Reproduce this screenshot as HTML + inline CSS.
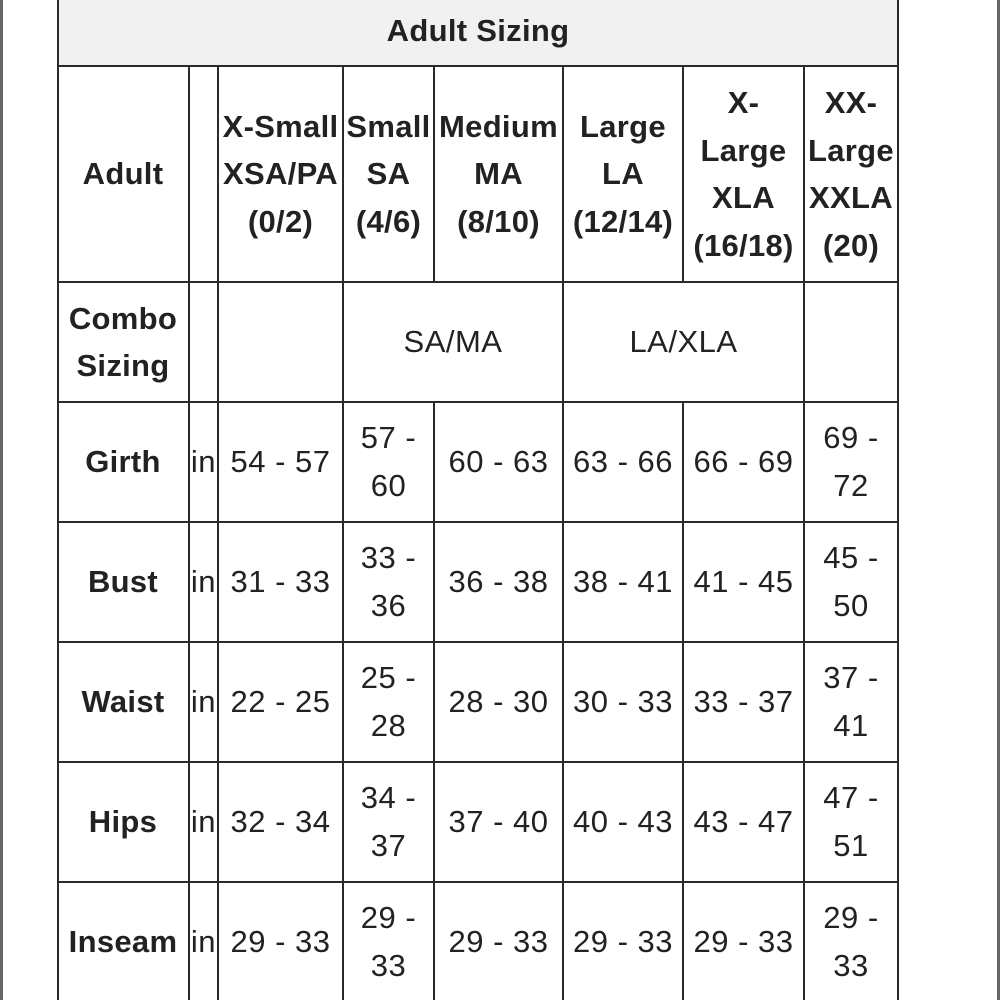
<!DOCTYPE html>
<html><head><meta charset="utf-8"><style>
html,body{margin:0;padding:0;background:#fff;}
#c{position:relative;width:1000px;height:1000px;overflow:hidden;font-family:"Liberation Sans",sans-serif;color:#222;}
.v{position:absolute;width:2px;background:#2a2a2a;}
.h{position:absolute;height:2px;background:#2a2a2a;}
.t{position:absolute;display:flex;align-items:center;justify-content:center;text-align:center;white-space:nowrap;font-size:31px;line-height:48px;letter-spacing:0.5px;}
.b{font-weight:bold;font-size:31px;line-height:47.5px;letter-spacing:0.3px;}
</style></head><body><div id="c">
<div style="position:absolute;left:0;top:0;width:3px;height:1000px;background:#666"></div>
<div style="position:absolute;left:997px;top:0;width:3px;height:1000px;background:#666"></div>
<div style="position:absolute;left:58px;top:0;width:841px;height:66px;background:#f1f1f1"></div>
<div class="v" style="left:57px;top:0;height:1000px"></div>
<div class="v" style="left:897px;top:0;height:1000px"></div>
<div class="h" style="left:57px;top:65px;width:842px"></div>
<div class="h" style="left:57px;top:281px;width:842px"></div>
<div class="h" style="left:57px;top:401px;width:842px"></div>
<div class="h" style="left:57px;top:521px;width:842px"></div>
<div class="h" style="left:57px;top:641px;width:842px"></div>
<div class="h" style="left:57px;top:761px;width:842px"></div>
<div class="h" style="left:57px;top:881px;width:842px"></div>
<div class="v" style="left:188px;top:66px;height:934px"></div>
<div class="v" style="left:217px;top:66px;height:934px"></div>
<div class="v" style="left:342px;top:66px;height:934px"></div>
<div class="v" style="left:433px;top:66px;height:216px"></div>
<div class="v" style="left:433px;top:402px;height:598px"></div>
<div class="v" style="left:562px;top:66px;height:934px"></div>
<div class="v" style="left:682px;top:66px;height:216px"></div>
<div class="v" style="left:682px;top:402px;height:598px"></div>
<div class="v" style="left:803px;top:66px;height:934px"></div>

<div class="t b" style="left:57px;top:0;width:842px;height:62px">Adult Sizing</div>

<div class="t b" style="left:57px;top:66px;width:132px;height:216px">Adult</div>
<div class="t b" style="left:218px;top:66px;width:125px;height:216px">X-Small<br>XSA/PA<br>(0/2)</div>
<div class="t b" style="left:343px;top:66px;width:91px;height:216px">Small<br>SA<br>(4/6)</div>
<div class="t b" style="left:434px;top:66px;width:129px;height:216px">Medium<br>MA<br>(8/10)</div>
<div class="t b" style="left:563px;top:66px;width:120px;height:216px">Large<br>LA<br>(12/14)</div>
<div class="t b" style="left:683px;top:66px;width:121px;height:216px">X-<br>Large<br>XLA<br>(16/18)</div>
<div class="t b" style="left:804px;top:66px;width:94px;height:216px">XX-<br>Large<br>XXLA<br>(20)</div>

<div class="t b" style="left:57px;top:282px;width:132px;height:120px">Combo<br>Sizing</div>
<div class="t" style="left:343px;top:282px;width:220px;height:120px">SA/MA</div>
<div class="t" style="left:563px;top:282px;width:241px;height:120px">LA/XLA</div>

<!-- rows -->
<div class="t b" style="left:57px;top:402px;width:132px;height:120px">Girth</div>
<div class="t" style="left:189px;top:402px;width:29px;height:120px">in</div>
<div class="t" style="left:218px;top:402px;width:125px;height:120px">54 - 57</div>
<div class="t" style="left:343px;top:402px;width:91px;height:120px">57 -<br>60</div>
<div class="t" style="left:434px;top:402px;width:129px;height:120px">60 - 63</div>
<div class="t" style="left:563px;top:402px;width:120px;height:120px">63 - 66</div>
<div class="t" style="left:683px;top:402px;width:121px;height:120px">66 - 69</div>
<div class="t" style="left:804px;top:402px;width:94px;height:120px">69 -<br>72</div>

<div class="t b" style="left:57px;top:522px;width:132px;height:120px">Bust</div>
<div class="t" style="left:189px;top:522px;width:29px;height:120px">in</div>
<div class="t" style="left:218px;top:522px;width:125px;height:120px">31 - 33</div>
<div class="t" style="left:343px;top:522px;width:91px;height:120px">33 -<br>36</div>
<div class="t" style="left:434px;top:522px;width:129px;height:120px">36 - 38</div>
<div class="t" style="left:563px;top:522px;width:120px;height:120px">38 - 41</div>
<div class="t" style="left:683px;top:522px;width:121px;height:120px">41 - 45</div>
<div class="t" style="left:804px;top:522px;width:94px;height:120px">45 -<br>50</div>

<div class="t b" style="left:57px;top:642px;width:132px;height:120px">Waist</div>
<div class="t" style="left:189px;top:642px;width:29px;height:120px">in</div>
<div class="t" style="left:218px;top:642px;width:125px;height:120px">22 - 25</div>
<div class="t" style="left:343px;top:642px;width:91px;height:120px">25 -<br>28</div>
<div class="t" style="left:434px;top:642px;width:129px;height:120px">28 - 30</div>
<div class="t" style="left:563px;top:642px;width:120px;height:120px">30 - 33</div>
<div class="t" style="left:683px;top:642px;width:121px;height:120px">33 - 37</div>
<div class="t" style="left:804px;top:642px;width:94px;height:120px">37 -<br>41</div>

<div class="t b" style="left:57px;top:762px;width:132px;height:120px">Hips</div>
<div class="t" style="left:189px;top:762px;width:29px;height:120px">in</div>
<div class="t" style="left:218px;top:762px;width:125px;height:120px">32 - 34</div>
<div class="t" style="left:343px;top:762px;width:91px;height:120px">34 -<br>37</div>
<div class="t" style="left:434px;top:762px;width:129px;height:120px">37 - 40</div>
<div class="t" style="left:563px;top:762px;width:120px;height:120px">40 - 43</div>
<div class="t" style="left:683px;top:762px;width:121px;height:120px">43 - 47</div>
<div class="t" style="left:804px;top:762px;width:94px;height:120px">47 -<br>51</div>

<div class="t b" style="left:57px;top:882px;width:132px;height:120px">Inseam</div>
<div class="t" style="left:189px;top:882px;width:29px;height:120px">in</div>
<div class="t" style="left:218px;top:882px;width:125px;height:120px">29 - 33</div>
<div class="t" style="left:343px;top:882px;width:91px;height:120px">29 -<br>33</div>
<div class="t" style="left:434px;top:882px;width:129px;height:120px">29 - 33</div>
<div class="t" style="left:563px;top:882px;width:120px;height:120px">29 - 33</div>
<div class="t" style="left:683px;top:882px;width:121px;height:120px">29 - 33</div>
<div class="t" style="left:804px;top:882px;width:94px;height:120px">29 -<br>33</div>
</div></body></html>
